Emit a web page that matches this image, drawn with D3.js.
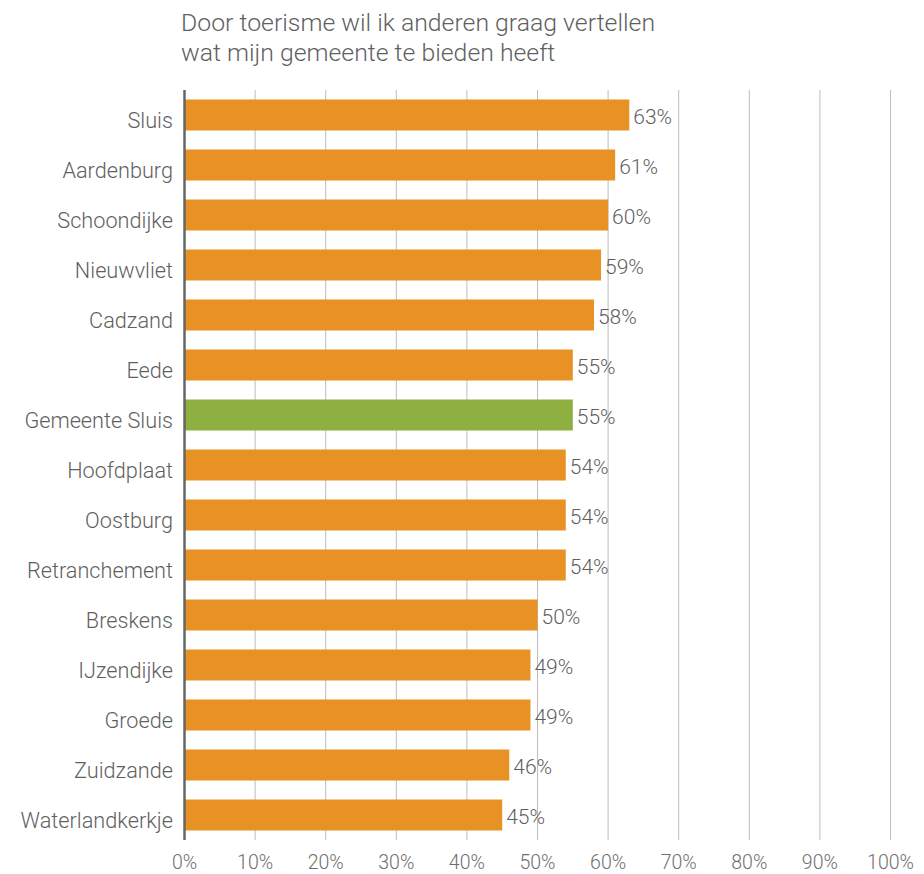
<!DOCTYPE html>
<html><head><meta charset="utf-8">
<script src="https://cdn.jsdelivr.net/npm/d3@7"></script>
<style>body{margin:0;background:#fff}svg{display:block}text{font-family:Roboto,"Noto Sans",sans-serif;font-weight:300}</style>
</head><body>
<svg id="c" width="924" height="874"></svg>
<script>
const titleLines = ["Door toerisme wil ik anderen graag vertellen", "wat mijn gemeente te bieden heeft"];
const categories = ["Sluis","Aardenburg","Schoondijke","Nieuwvliet","Cadzand","Eede","Gemeente Sluis","Hoofdplaat","Oostburg","Retranchement","Breskens","IJzendijke","Groede","Zuidzande","Waterlandkerkje"];
const values = [63,61,60,59,58,55,55,54,54,54,50,49,49,46,45];
const highlight = ["Gemeente Sluis"];
const ticks = [0,10,20,30,40,50,60,70,80,90,100];

const svg = d3.select("#c");
const x = d3.scaleLinear().domain([0,100]).range([184.5, 890.5]);
const y = d3.scaleBand().domain(categories).range([90, 840]).paddingInner(0.38).paddingOuter(0.19);

svg.selectAll("text.title").data(titleLines).join("text")
  .attr("x", 181).attr("y", (d,i)=>31 + i*30)
  .attr("font-size", 24.8).attr("fill", "#5f5f5f").text(d=>d);

// gridlines
svg.append("g").selectAll("line").data(ticks.slice(1)).join("line")
  .attr("x1", d=>x(d)).attr("x2", d=>x(d)).attr("y1", 90).attr("y2", 840)
  .attr("stroke", "#bdbdbd").attr("stroke-width", 1);

// bars
svg.append("g").selectAll("rect").data(categories).join("rect")
  .attr("x", x(0)).attr("y", d=>y(d))
  .attr("width", (d,i)=>x(values[i]) - x(0)).attr("height", y.bandwidth())
  .attr("fill", d=>highlight.includes(d) ? "#8db040" : "#e89124");

// axis line
svg.append("line").attr("x1", x(0)).attr("x2", x(0)).attr("y1", 90).attr("y2", 840)
  .attr("stroke", "#666").attr("stroke-width", 2.5);

// value labels
svg.append("g").selectAll("text").data(categories).join("text")
  .attr("x", (d,i)=>x(values[i]) + 4).attr("y", d=>y(d) + y.bandwidth()/2 + 2)
  .attr("dy", "0.35em").attr("font-size", 21).attr("fill", "#5f5f5f")
  .text((d,i)=>values[i] + "%");

// category labels
svg.append("g").selectAll("text").data(categories).join("text")
  .attr("x", 173).attr("y", d=>y(d) + y.bandwidth()/2 + 5)
  .attr("dy", "0.35em").attr("text-anchor", "end").attr("font-size", 21.7).attr("fill", "#5f5f5f")
  .text(d=>d);

// x tick labels
svg.append("g").selectAll("text").data(ticks).join("text")
  .attr("x", d=>x(d)).attr("y", 869).attr("text-anchor", "middle")
  .attr("font-size", 19.5).attr("fill", "#6f6f6f").text(d=>d + "%");
</script>
</body></html>
